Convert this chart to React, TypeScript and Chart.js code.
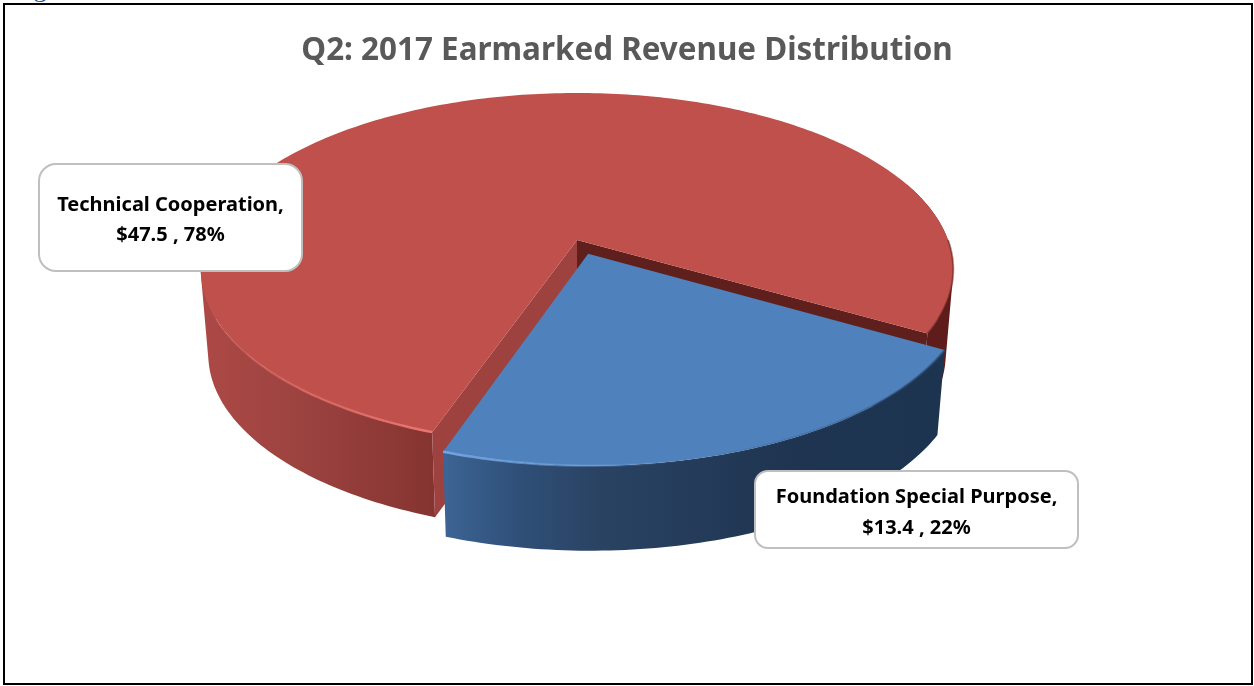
import React, { useEffect, useRef } from "react";
import { Chart, registerables } from "chart.js";

Chart.register(...registerables);

const categories = ["Foundation Special Purpose", "Technical Cooperation"];
const revenue = [13.4, 47.5];
const percents = [22, 78];
const chartTitle = "Q2: 2017 Earmarked Revenue Distribution";
const clippedCaption = "Figure";

const FONT = '"Noto Sans", sans-serif';
const topColors = ["#4f81bd", "#bf504c"];
const blueWallStops: [number, string][] = [[0, "#406b9e"], [0.19, "#2f4f77"], [0.34, "#2a4363"], [0.72, "#1e3450"], [1, "#1d3450"]];
const redWallStops: [number, string][] = [[0, "#ad4946"], [0.13, "#9c4340"], [0.31, "#863431"], [0.7, "#661f1c"], [1, "#5e1d1a"]];
const faceColors = { left: "#9e423f", right: "#5f1f1c" };
const explodeFraction = [0.085, 0];
const labelBoxes = [
  { x: 755, y: 471, w: 323, h: 77, r: 13, base: [503, 534], width: [282, 113] },
  { x: 39, y: 164, w: 263, h: 107, r: 17, base: [211, 241], width: [228, 113] },
];

// perspective model of the tilted pie
const view = { cx: 577, cy: 240, a: 371, b: 171.5, p: 0.1664, q: 0.02, d: 85 };
const P = (u: number, v: number, z: number): [number, number] => {
  const w = 1 / (1 - view.p * v);
  const k = 1 - view.q * z;
  return [view.cx + view.a * u * w * k, view.cy + view.b * v * w + view.d * z];
};

const DEG = Math.PI / 180;

function rimPts(ou: number, ov: number, from: number, to: number, z: number) {
  const pts: [number, number][] = [];
  const n = Math.max(2, Math.ceil(Math.abs(to - from) / DEG));
  for (let i = 0; i <= n; i++) {
    const t = from + ((to - from) * i) / n;
    pts.push(P(ou + Math.cos(t), ov + Math.sin(t), z));
  }
  return pts;
}

function trace(ctx: CanvasRenderingContext2D, pts: [number, number][]) {
  pts.forEach(([x, y], i) => (i ? ctx.lineTo(x, y) : ctx.moveTo(x, y)));
  ctx.closePath();
}

function poly(ctx: CanvasRenderingContext2D, pts: [number, number][], fill: any) {
  ctx.beginPath();
  trace(ctx, pts);
  ctx.fillStyle = fill;
  ctx.fill();
}

function strokePts(ctx: CanvasRenderingContext2D, pts: [number, number][], style: any, w: number) {
  ctx.beginPath();
  pts.forEach(([x, y], i) => (i ? ctx.lineTo(x, y) : ctx.moveTo(x, y)));
  ctx.strokeStyle = style;
  ctx.lineWidth = w;
  ctx.lineJoin = "round";
  ctx.stroke();
}

// all quads are wound the same way so that they form a seamless union
function wallPath(ctx: CanvasRenderingContext2D, top: [number, number][], bottom: [number, number][]) {
  for (let i = 0; i + 1 < top.length; i++) {
    const q: [number, number][] = [top[i], top[i + 1], bottom[i + 1], bottom[i]];
    let area = 0;
    q.forEach(([x, y], j) => {
      const [nx, ny] = q[(j + 1) % 4];
      area += x * ny - nx * y;
    });
    trace(ctx, area < 0 ? q.reverse() : q);
  }
}

const wallGradient = (ctx: CanvasRenderingContext2D, index: number) => {
  const [x0, x1] = index === 0 ? [420, 945] : [200, 950];
  const g = ctx.createLinearGradient(x0, 0, x1, 0);
  (index === 0 ? blueWallStops : redWallStops).forEach(([o, c]) => g.addColorStop(o, c));
  return g;
};

const pie3d = {
  id: "pie3d",
  beforeDraw(chart: any) {
    const { ctx } = chart;
    ctx.save();
    ctx.fillStyle = "#ffffff";
    ctx.fillRect(0, 0, chart.width, chart.height);
    ctx.strokeStyle = "#000000";
    ctx.lineWidth = 2;
    ctx.strokeRect(4, 4, 1248, 680);
    ctx.restore();
  },
  beforeDatasetDraw(chart: any, args: any) {
    const { ctx } = chart;
    const arcs = chart.getDatasetMeta(args.index).data;
    const order = [1, 0];
    ctx.save();
    order.forEach((i) => {
      const arc = arcs[i];
      const s = arc.startAngle;
      const e = arc.endAngle;
      const mid = (s + e) / 2;
      const ou = Math.cos(mid) * explodeFraction[i];
      const ov = Math.sin(mid) * explodeFraction[i];

      // outer wall, front-facing parts only
      ctx.beginPath();
      for (const shift of [0, -2 * Math.PI]) {
        const from = Math.max(s + shift, -20 * DEG);
        const to = Math.min(e + shift, 200 * DEG);
        if (to > from) wallPath(ctx, rimPts(ou, ov, from, to, 0), rimPts(ou, ov, from, to, 1));
      }
      ctx.fillStyle = wallGradient(ctx, i);
      ctx.fill("nonzero");

      // cut faces of the big slice
      if (i === 1) {
        const cS = [Math.cos(s), Math.sin(s)];
        const cE = [Math.cos(e), Math.sin(e)];
        poly(ctx, [P(ou, ov, 0), P(ou + cS[0], ov + cS[1], 0), P(ou + cS[0], ov + cS[1], 1), P(ou, ov, 1)], faceColors.left);
        poly(ctx, [P(ou, ov, 0), P(ou + cE[0], ov + cE[1], 0), P(ou + cE[0], ov + cE[1], 1), P(ou, ov, 1)], faceColors.right);
      }

      // top surface
      poly(ctx, [P(ou, ov, 0), ...rimPts(ou, ov, s, e, 0)], topColors[i]);

      // rim shading
      if (i === 1) {
        const g = ctx.createLinearGradient(205, 0, 435, 0);
        g.addColorStop(0, "rgba(225,105,100,0)");
        g.addColorStop(0.45, "rgba(225,105,100,0.7)");
        g.addColorStop(1, "rgba(232,120,115,1)");
        strokePts(ctx, rimPts(ou, ov, s, s + 70 * DEG, 0), g, 2.5);
        strokePts(ctx, rimPts(ou, ov, e - 30 * DEG, e, 0), "rgba(100,30,28,0.5)", 2);
      } else {
        const g = ctx.createLinearGradient(443, 0, 680, 0);
        g.addColorStop(0, "rgba(115,165,225,1)");
        g.addColorStop(1, "rgba(115,165,225,0)");
        strokePts(ctx, rimPts(ou, ov, e - 35 * DEG, e, 0), g, 2.5);
        const g2 = ctx.createLinearGradient(680, 0, 945, 0);
        g2.addColorStop(0, "rgba(40,70,110,0)");
        g2.addColorStop(1, "rgba(40,70,110,0.6)");
        strokePts(ctx, rimPts(ou, ov, s, e - 35 * DEG, 0), g2, 2.5);
      }
    });
    ctx.restore();
    return false;
  },
  afterDraw(chart: any) {
    const { ctx } = chart;
    ctx.save();
    ctx.fillStyle = "#2a5a9c";
    ctx.font = '28px "Liberation Serif", serif';
    ctx.textAlign = "left";
    ctx.textBaseline = "alphabetic";
    ctx.fillText(clippedCaption, 10, -4);

    labelBoxes.forEach((box, i) => {
      ctx.beginPath();
      ctx.roundRect(box.x, box.y, box.w, box.h, box.r);
      ctx.fillStyle = "#ffffff";
      ctx.fill();
      ctx.strokeStyle = "#bfbfbf";
      ctx.lineWidth = 2;
      ctx.stroke();
      const lines = [`${categories[i]},`, `$${revenue[i].toFixed(1)} , ${percents[i]}%`];
      ctx.fillStyle = "#000000";
      ctx.font = `bold 20px ${FONT}`;
      ctx.textAlign = "center";
      lines.forEach((t, j) => ctx.fillText(t, box.x + box.w / 2, box.base[j], box.width[j]));
    });
    ctx.restore();
  },
};

export default function App() {
  const ref = useRef<HTMLCanvasElement>(null);
  useEffect(() => {
    const chart = new Chart(ref.current as HTMLCanvasElement, {
      type: "pie",
      data: {
        labels: categories,
        datasets: [
          {
            data: revenue,
            backgroundColor: topColors,
            borderWidth: 0,
            offset: [20, 0],
          },
        ],
      },
      options: {
        animation: false,
        responsive: false,
        rotation: 120,
        events: [],
        plugins: {
          legend: { display: false },
          tooltip: { enabled: false },
          title: {
            display: true,
            text: chartTitle,
            color: "#595959",
            font: { family: FONT, size: 31.4, weight: "bold" },
            padding: { top: 32, bottom: 10 },
          },
        },
      },
      plugins: [pie3d],
    } as any);
    return () => chart.destroy();
  }, []);
  return (
    <div style={{ position: "absolute", left: 0, top: 0, width: 1254, height: 686 }}>
      <canvas ref={ref} width={1254} height={686} style={{ display: "block" }} />
    </div>
  );
}
